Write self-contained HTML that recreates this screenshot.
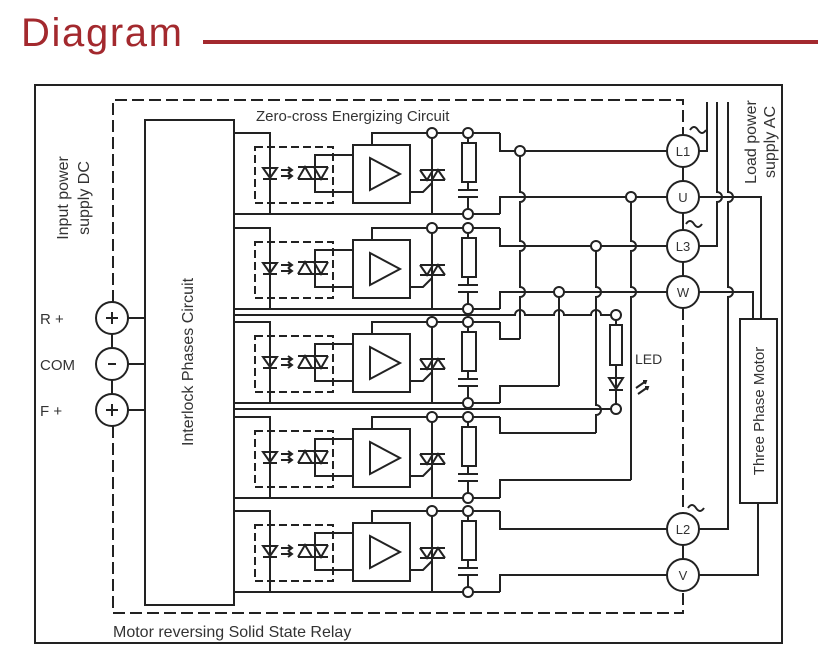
<!DOCTYPE html>
<html><head><meta charset="utf-8"><style>
html,body{margin:0;padding:0;background:#fff;}
svg{display:block;}
text{font-family:"Liberation Sans","DejaVu Sans",sans-serif;fill:#333;}
</style></head><body>
<svg width="835" height="670" viewBox="0 0 835 670" xmlns="http://www.w3.org/2000/svg">
<text x="21" y="46" font-size="40" textLength="161" style="fill:#a3292e">Diagram</text>
<rect x="203" y="40" width="615" height="4" fill="#a3292e"/>
<rect x="35" y="85" width="747" height="558" fill="none" stroke="#222" stroke-width="2"/>
<defs>
<g id="row" fill="none" stroke="#222" stroke-width="2">
<path d="M234,0 H270 V81 M234,81 H500"/>
<rect x="255" y="14" width="78" height="56" stroke-dasharray="8,4"/>
<path d="M263,35 L277,35 L270,45 Z M263,46 H277"/>
<path d="M281,37 H292 M288,34 L292,37 L288,40 M281,43 H292 M288,40 L292,43 L288,46"/>
<path d="M298,34 H328 M298,46 H328 M298,46 L305,34 L312,46 M314,34 L321,46 L328,34"/>
<path d="M353,22 H315 V59 H353"/>
<rect x="353" y="12" width="57" height="58"/>
<path d="M370,25 L400,41 L370,57 Z"/>
<path d="M372,12 V0 H500"/>
<path d="M432,0 V81 M420,37 H445 M420,47 H445 M420,37 L427,47 L433,37 M432,47 L438,37 L445,47 M410,59 H423 L432,50"/>
<path d="M468,0 V10 M468,49 V57 M458,57 H478 M458,64 H478 M468,64 V81"/>
<rect x="462" y="10" width="14" height="39"/>
<circle cx="432" cy="0" r="5" fill="#fff"/><circle cx="468" cy="0" r="5" fill="#fff"/><circle cx="468" cy="81" r="5" fill="#fff"/>
</g>
</defs>
<use href="#row" transform="translate(0,133)"/>
<use href="#row" transform="translate(0,228)"/>
<use href="#row" transform="translate(0,322)"/>
<use href="#row" transform="translate(0,417)"/>
<use href="#row" transform="translate(0,511)"/>
<g fill="none" stroke="#222" stroke-width="2">
<!-- dashed enclosure -->
<path d="M113,302 V100 H683 V135" stroke-dasharray="12,5"/>
<path d="M113,426 V613 H683 V591" stroke-dasharray="12,5"/>
<path d="M683,308 V513" stroke-dasharray="12,5"/>
<rect x="145" y="120" width="89" height="485"/>
<circle cx="112" cy="318" r="16"/><circle cx="112" cy="364" r="16"/><circle cx="112" cy="410" r="16"/>
<path d="M112,334 V348 M112,380 V394 M128,318 H145 M128,364 H145 M128,410 H145"/>
<path d="M106,318 H118 M112,312 V324 M106,410 H118 M112,404 V416 M108,364 H116"/>
<!-- row right routing -->
<path d="M500,133 V151 H667"/>
<path d="M500,214 V197 H667"/>
<path d="M500,228 V246 H667"/>
<path d="M500,309 V292 H667"/>
<path d="M500,322 V339 H520"/>
<path d="M500,403 V386 H559"/>
<path d="M500,417 V433 H596"/>
<path d="M500,498 V480 H631"/>
<path d="M500,511 V529 H667"/>
<path d="M500,592 V575 H667"/>
<!-- verticals with hops -->
<path d="M520,151 V192 a5,5 0 0 1 0,10 V241 a5,5 0 0 1 0,10 V287 a5,5 0 0 1 0,10 V339"/>
<path d="M559,292 V386"/>
<path d="M596,246 V287 a5,5 0 0 1 0,10 V405 a5,5 0 0 1 0,10 V433"/>
<path d="M631,197 V241 a5,5 0 0 1 0,10 V287 a5,5 0 0 1 0,10 V480"/>
<!-- LED supply lines -->
<path d="M234,315 H515 a5,5 0 0 1 10,0 H554 a5,5 0 0 1 10,0 H591 a5,5 0 0 1 10,0 H616"/>
<path d="M234,409 H616"/>
<path d="M616,315 V325 M616,365 V409"/>
<rect x="610" y="325" width="12" height="40"/>
<path d="M609,378 H623 L616,389 Z M609,390 H623"/>
<path d="M636,388 L646,381 M643,381 L646,381 L645,384 M638,394 L648,387 M645,387 L648,387 L647,390"/>
<circle cx="616" cy="315" r="5" fill="#fff"/><circle cx="616" cy="409" r="5" fill="#fff"/>
<circle cx="520" cy="151" r="5" fill="#fff"/><circle cx="631" cy="197" r="5" fill="#fff"/>
<circle cx="596" cy="246" r="5" fill="#fff"/><circle cx="559" cy="292" r="5" fill="#fff"/>
<!-- terminals -->
<circle cx="683" cy="151" r="16"/><circle cx="683" cy="197" r="16"/><circle cx="683" cy="246" r="16"/>
<circle cx="683" cy="292" r="16"/><circle cx="683" cy="529" r="16"/><circle cx="683" cy="575" r="16"/>
<path d="M683,167 V181 M683,213 V230 M683,262 V276 M683,545 V559"/>
<path d="M690,130 q4,-6 8,0 t8,0 M686,224 q4,-6 8,0 t8,0 M688,508 q4,-6 8,0 t8,0"/>
<path d="M707,102 V151 H699"/>
<path d="M717,102 V192 a5,5 0 0 1 0,10 V246 H699"/>
<path d="M728,102 V192 a5,5 0 0 1 0,10 V287 a5,5 0 0 1 0,10 V529 H699"/>
<path d="M699,197 H761 V319 M699,292 H753 V319 M699,575 H758 V503"/>
<rect x="740" y="319" width="37" height="184"/>
</g>
<g font-size="15">
<text x="256" y="121">Zero-cross Energizing Circuit</text>
<text x="113" y="637" font-size="16">Motor reversing Solid State Relay</text>
<text x="40" y="324">R +</text>
<text x="40" y="370">COM</text>
<text x="40" y="416">F +</text>
<text transform="translate(68,198) rotate(-90)" text-anchor="middle" font-size="16">Input power</text>
<text transform="translate(89,198) rotate(-90)" text-anchor="middle" font-size="16">supply DC</text>
<text transform="translate(193,362) rotate(-90)" text-anchor="middle" font-size="16">Interlock Phases Circuit</text>
<text transform="translate(764,411) rotate(-90)" text-anchor="middle" font-size="15">Three Phase Motor</text>
<text transform="translate(756,142) rotate(-90)" text-anchor="middle" font-size="16">Load power</text>
<text transform="translate(775,142) rotate(-90)" text-anchor="middle" font-size="16">supply AC</text>
<text x="635" y="364" font-size="14">LED</text>
<g font-size="13" text-anchor="middle">
<text x="683" y="156">L1</text><text x="683" y="202">U</text><text x="683" y="251">L3</text>
<text x="683" y="297">W</text><text x="683" y="534">L2</text><text x="683" y="580">V</text>
</g>
</g>
</svg>
</body></html>
